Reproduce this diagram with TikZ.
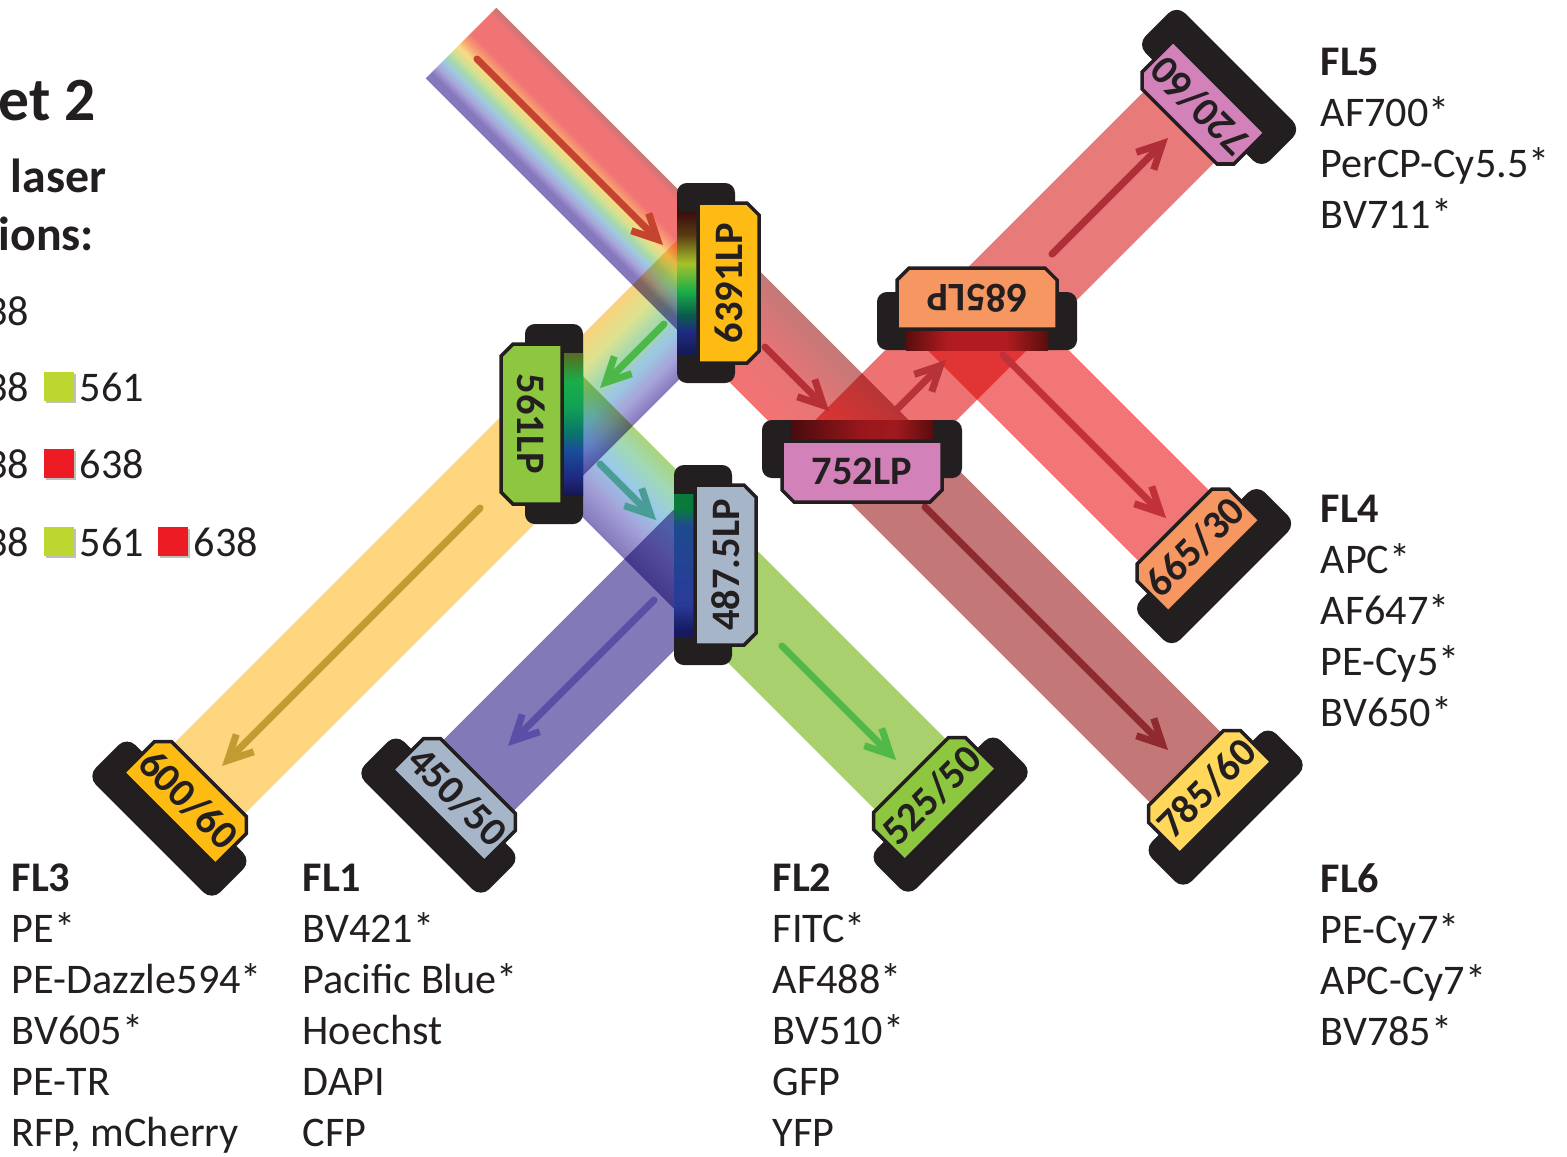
\documentclass[tikz,border=0pt]{standalone}
\usepackage{fontspec}
\setmainfont{Carlito}
\usepackage{tikz}
\usetikzlibrary{arrows.meta}

\definecolor{ink}{HTML}{231F20}
\definecolor{lblgold}{HTML}{FDBB14}
\definecolor{lblleaf}{HTML}{8DC63F}
\definecolor{lblslate}{HTML}{A7B5C8}
\definecolor{lblorchid}{HTML}{D282B9}
\definecolor{lblsalmon}{HTML}{F69661}
\definecolor{lbllemon}{HTML}{FFD75A}
\definecolor{beamyel}{HTML}{FED680}
\definecolor{beamvio}{HTML}{8279B9}
\definecolor{beamgrn}{HTML}{A8D16E}
\definecolor{beamrose}{HTML}{C47777}
\definecolor{beamred}{HTML}{EE7272}
\definecolor{beamcoral}{HTML}{E87A7A}
\definecolor{beamsalmon}{HTML}{F27676}
\definecolor{rayrust}{HTML}{C5442F}
\definecolor{raycrimson}{HTML}{B52F36}
\definecolor{raymaroon}{HTML}{8E2A30}
\definecolor{rayrose}{HTML}{B8323A}
\definecolor{rayred}{HTML}{B02E38}
\definecolor{rayscarlet}{HTML}{C0313A}
\definecolor{raygreen}{HTML}{4DB848}
\definecolor{raymustard}{HTML}{C39B33}
\definecolor{rayteal}{HTML}{4A9D97}
\definecolor{rayindigo}{HTML}{5B4EA6}
\definecolor{raylime}{HTML}{52B848}
\definecolor{swlime}{HTML}{BDD630}
\definecolor{swred}{HTML}{ED1C24}

% colour across the width of the beams (top = left of the travel direction)
\pgfdeclareverticalshading{incoming}{100bp}{rgb(0bp)=(0.52,0.47,0.74); rgb(25bp)=(0.52,0.47,0.74);
  rgb(29bp)=(0.52,0.47,0.74); rgb(33bp)=(0.66,0.64,0.85); rgb(37bp)=(0.62,0.78,0.89);
  rgb(41bp)=(0.66,0.85,0.66); rgb(44.5bp)=(0.83,0.88,0.56); rgb(48bp)=(0.97,0.85,0.53);
  rgb(52bp)=(0.97,0.64,0.45); rgb(57bp)=(0.95,0.45,0.45); rgb(70bp)=(0.95,0.45,0.45);
  rgb(75bp)=(0.78,0.47,0.47); rgb(100bp)=(0.78,0.47,0.47)}
\pgfdeclareverticalshading{passred}{100bp}{rgb(0bp)=(0.96,0.45,0.45); rgb(25bp)=(0.96,0.45,0.45);
  rgb(50bp)=(0.90,0.46,0.46); rgb(75bp)=(0.77,0.47,0.47); rgb(100bp)=(0.77,0.47,0.47)}
\pgfdeclareverticalshading{reflectshort}{100bp}{rgb(0bp)=(0.99,0.82,0.49); rgb(25bp)=(0.99,0.82,0.49);
  rgb(37bp)=(0.86,0.89,0.56); rgb(47bp)=(0.65,0.85,0.68); rgb(57bp)=(0.61,0.78,0.89);
  rgb(66bp)=(0.65,0.64,0.85); rgb(75bp)=(0.53,0.47,0.74); rgb(100bp)=(0.53,0.47,0.74)}
\pgfdeclareverticalshading{reflectblue}{100bp}{rgb(0bp)=(0.52,0.47,0.74); rgb(25bp)=(0.52,0.47,0.74);
  rgb(40bp)=(0.64,0.64,0.85); rgb(53bp)=(0.60,0.79,0.91); rgb(65bp)=(0.63,0.85,0.71);
  rgb(75bp)=(0.67,0.83,0.48); rgb(100bp)=(0.67,0.83,0.48)}
% glass strips of the mirrors
\pgfdeclarehorizontalshading{strip6391}{100bp}{rgb(0bp)=(0.08,0.10,0.33); rgb(25bp)=(0.08,0.10,0.33);
  rgb(33bp)=(0.12,0.17,0.51); rgb(39bp)=(0.04,0.37,0.29); rgb(47bp)=(0.10,0.68,0.29);
  rgb(57bp)=(0.65,0.76,0.16); rgb(67bp)=(0.35,0.23,0.07); rgb(75bp)=(0.23,0.05,0.05); rgb(100bp)=(0.23,0.05,0.05)}
\pgfdeclarehorizontalshading{strip561}{100bp}{rgb(0bp)=(0.35,0.42,0.12); rgb(25bp)=(0.35,0.42,0.12);
  rgb(35bp)=(0.10,0.68,0.29); rgb(44bp)=(0.07,0.63,0.33); rgb(52.5bp)=(0.04,0.47,0.41);
  rgb(59.5bp)=(0.10,0.30,0.61); rgb(69bp)=(0.12,0.16,0.50); rgb(75bp)=(0.09,0.09,0.31); rgb(100bp)=(0.09,0.09,0.31)}
\pgfdeclarehorizontalshading{strip4875}{100bp}{rgb(0bp)=(0.09,0.10,0.38); rgb(27bp)=(0.09,0.10,0.38);
  rgb(36bp)=(0.16,0.23,0.60); rgb(64bp)=(0.12,0.29,0.56); rgb(70bp)=(0.04,0.48,0.23); rgb(100bp)=(0.04,0.48,0.23)}
\pgfdeclarehorizontalshading{strip752}{100bp}{rgb(0bp)=(0.29,0.04,0.05); rgb(25bp)=(0.29,0.04,0.05);
  rgb(50bp)=(0.60,0.09,0.11); rgb(62bp)=(0.63,0.10,0.12); rgb(75bp)=(0.35,0.05,0.05); rgb(100bp)=(0.35,0.05,0.05)}
\pgfdeclarehorizontalshading{strip685}{100bp}{rgb(0bp)=(0.35,0.05,0.05); rgb(25bp)=(0.35,0.05,0.05);
  rgb(40bp)=(0.70,0.11,0.13); rgb(60bp)=(0.70,0.11,0.13); rgb(75bp)=(0.35,0.05,0.05); rgb(100bp)=(0.35,0.05,0.05)}

% start, angle, length, start cut, end cut, paint
\newcommand{\lightband}[6]{%
  \begin{scope}[transform canvas={shift={#1},rotate=#2}]
    \path[#6] ({-50*#4},-50) -- ({#3-50*#5},-50) -- ({#3+50*#5},50) -- ({50*#4},50) -- cycle;
  \end{scope}}
% name, centre, angle, text, colour, strip
\newcommand{\dichroic}[6]{%
  \begin{scope}[transform canvas={shift={#2},rotate=#3}]
    \fill[holder] (-100,-21) rectangle (100,37);
    \shade[shading=#6] (-71,-21) rectangle (71,0);
    \draw[plate, fill=#5] (-80,0) -- (80,0) -- (80,49) -- (68,61) -- (-68,61) -- (-80,49) -- cycle;
    \node[mirrortext] (#1) at (0,30.5) {#4};
  \end{scope}}
% name, face, angle, text, colour
\newcommand{\bandpass}[5]{%
  \begin{scope}[transform canvas={shift={#2},rotate=#3}]
    \fill[holder, rounded corners=3.4pt] (-88,28) rectangle (88,84);
    \draw[plate, fill=#5] (-65,12) -- (-53,0) -- (53,0) -- (65,12) -- (65,56) -- (-65,56) -- cycle;
    \node[filtertext] (#1) at (0,29) {#4};
  \end{scope}}

\begin{document}
\begin{tikzpicture}[x=0.01cm, y=-0.01cm,
    holder/.style={fill=ink, rounded corners=2.8pt},
    plate/.style={draw=ink, line width=1pt},
    mirrortext/.style={font=\bfseries\fontsize{11.5}{13}\selectfont, text=ink, inner sep=0pt},
    filtertext/.style={font=\bfseries\fontsize{11.6}{13}\selectfont, text=ink, inner sep=0pt},
    ray/.style={line width=2pt, line cap=round, -{Straight Barb[length=7pt,width=7pt]}},
    legendtext/.style={font=\bfseries\fontsize{13.6}{16}\selectfont, text=ink, anchor=base west, inner sep=0pt},
    fltitle/.style={font=\bfseries\fontsize{12}{14}\selectfont, text=ink, anchor=base west, inner sep=0pt},
    flentry/.style={font=\fontsize{12}{14}\selectfont, text=ink, anchor=base west, inner sep=0pt}]
  \useasboundingbox (0,0) rectangle (1567,1156);

  % light paths
  \begin{scope}[blend mode=multiply]
    \lightband{(461,43)}{-45}{342.2}{0}{1}{shade,shading=incoming}
    \lightband{(703,285)}{-45}{224.9}{1}{-1}{shade,shading=passred}
    \lightband{(862,444)}{-45}{458.2}{-1}{0}{fill=beamrose}
    \lightband{(862,444)}{45}{162.6}{1}{1}{fill=beamred}
    \lightband{(977,329)}{45}{286.4}{1}{0}{fill=beamcoral}
    \lightband{(977,329)}{-45}{279.3}{-1}{0}{fill=beamsalmon}
    \lightband{(703,285)}{-135}{199.4}{-1}{-1}{shade,shading=reflectshort}
    \lightband{(562,426)}{-135}{499.2}{-1}{0}{fill=beamyel}
    \lightband{(562,426)}{-45}{188.1}{1}{1}{shade,shading=reflectblue}
    \lightband{(695,559)}{-135}{306.9}{-1}{0}{fill=beamvio}
    \lightband{(695,559)}{-45}{305.5}{1}{0}{fill=beamgrn}
  \end{scope}

  \draw[ray, rayrust] (477,59) -- (663,245);
  \draw[ray, raycrimson] (765,347) -- (829,411);
  \draw[ray, raymaroon] (925,507) -- (1168,750);
  \draw[ray, rayrose] (896,410) -- (946,360);
  \draw[ray, rayred] (1052,254) -- (1168,138);
  \draw[ray, rayscarlet] (1003,355) -- (1166,518);
  \draw[ray, raygreen] (664,324) -- (600,388);
  \draw[ray, raymustard] (480,508) -- (222,766);
  \draw[ray, rayteal] (600,464) -- (656,520);
  \draw[ray, rayindigo] (654,600) -- (508,746);
  \draw[ray, raylime] (782,646) -- (896,760);

  % mirrors and filters
  \dichroic{m639}{(698,283)}{90}{6391LP}{lblgold}{strip6391}
  \dichroic{m561}{(562,424)}{-90}{561LP}{lblleaf}{strip561}
  \dichroic{m487}{(695,565)}{90}{487.5LP}{lblslate}{strip4875}
  \dichroic{m752}{(862,441)}{0}{752LP}{lblorchid}{strip752}
  \dichroic{m685}{(977,329)}{180}{685LP}{lblsalmon}{strip685}

  \bandpass{f600}{(209,779)}{-45}{600/60}{lblgold}
  \bandpass{f450}{(478,776)}{-45}{450/50}{lblslate}
  \bandpass{f525}{(911,775)}{45}{525/50}{lblleaf}
  \bandpass{f785}{(1186,768)}{45}{785/60}{lbllemon}
  \bandpass{f665}{(1174.5,526.5)}{45}{665/30}{lblsalmon}
  \bandpass{f720}{(1179.5,126.5)}{135}{720/60}{lblorchid}

  % legend, cut at the left edge
  \node[legendtext, font=\bfseries\fontsize{17.5}{21}\selectfont] (settitle) at (-2,120) {et 2};
  \node[legendtext] (laserline) at (10,192) {laser};
  \node[legendtext] (ionsline) at (-2,250) {ions:};
  \foreach \y [count=\i] in {325,401,478,556}
    \node[flentry, anchor=base east] (row\i) at (30,\y) {38};
  \foreach \x/\y/\c in {44/372/swlime, 44/449/swred, 44/527/swlime, 158/527/swred} {
    \fill[black!25] (\x+2,\y+2) rectangle ++(30,29);
    \fill[\c] (\x,\y) rectangle ++(30,29);
  }
  \node[flentry] (nr561a) at (79,401) {561};
  \node[flentry] (nr638a) at (79,478) {638};
  \node[flentry] (nr561b) at (79,556) {561};
  \node[flentry] (nr638b) at (193,556) {638};

  % detector channels
  \node[fltitle] (fl5) at (1320,75) {FL5};
  \foreach \t [count=\i] in {AF700*, PerCP-Cy5.5*, BV711*}
    \node[flentry] (fl5-\i) at (1320,75+51.2*\i) {\t};
  \node[fltitle] (fl4) at (1320,522) {FL4};
  \foreach \t [count=\i] in {APC*, AF647*, PE-Cy5*, BV650*}
    \node[flentry] (fl4-\i) at (1320,522+51.2*\i) {\t};
  \node[fltitle] (fl6) at (1320,892) {FL6};
  \foreach \t [count=\i] in {PE-Cy7*, APC-Cy7*, BV785*}
    \node[flentry] (fl6-\i) at (1320,892+51.2*\i) {\t};
  \node[fltitle] (fl3) at (11,891) {FL3};
  \foreach \t [count=\i] in {PE*, PE-Dazzle594*, BV605*, PE-TR, {RFP, mCherry}}
    \node[flentry] (fl3-\i) at (11,891+51*\i) {\t};
  \node[fltitle] (fl1) at (302,891) {FL1};
  \foreach \t [count=\i] in {BV421*, Pacific Blue*, Hoechst, DAPI, CFP}
    \node[flentry] (fl1-\i) at (302,891+51*\i) {\t};
  \node[fltitle] (fl2) at (772,891) {FL2};
  \foreach \t [count=\i] in {FITC*, AF488*, BV510*, GFP, YFP}
    \node[flentry] (fl2-\i) at (772,891+51*\i) {\t};
\end{tikzpicture}
\end{document}
